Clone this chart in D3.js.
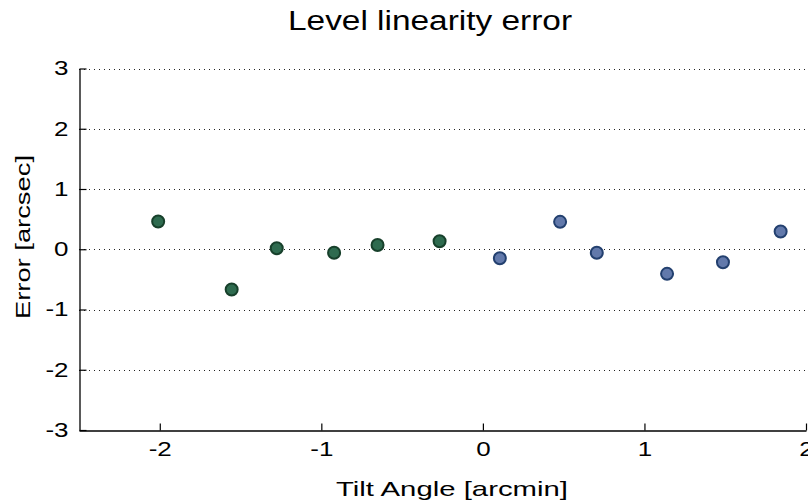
<!DOCTYPE html>
<html><head><meta charset="utf-8">
<script src="https://cdn.jsdelivr.net/npm/d3@7"></script>
<style>
html,body{margin:0;padding:0;background:#fff;}
svg{display:block;font-family:"Liberation Sans",Arial,Helvetica,sans-serif;}
</style></head>
<body><svg id="chart" width="808" height="503"></svg>
<script>
const titleText = "Level linearity error";
const xLabelText = "Tilt Angle [arcmin]";
const yLabelText = "Error [arcsec]";
const xTicks = [-2, -1, 0, 1, 2];
const yTicks = [-3, -2, -1, 0, 1, 2, 3];
const greenX = [-2.01, -1.555, -1.276, -0.921, -0.652, -0.268];
const greenY = [0.46, -0.667, 0.017, -0.057, 0.07, 0.133];
const blueX = [0.105, 0.478, 0.705, 1.14, 1.486, 1.843];
const blueY = [-0.15, 0.455, -0.057, -0.408, -0.217, 0.295];

const svg = d3.select("#chart");
const x = d3.scaleLinear().domain([-2.5, 2]).range([79, 806]);
const y = d3.scaleLinear().domain([-3, 3]).range([430, 68.5]);
const sx = 1.3;

// grid
svg.append("g").selectAll("line").data(yTicks.filter(d => d > -3)).join("line")
  .attr("x1", x(-2.5)).attr("x2", 808)
  .attr("y1", d => Math.round(y(d)) + 0.5).attr("y2", d => Math.round(y(d)) + 0.5)
  .attr("stroke", "#222").attr("stroke-width", 1).attr("stroke-dasharray", "1,4");

// axes
const xAxis = svg.append("g").attr("transform", `translate(0,${Math.round(y(-3)) + 0.5})`)
  .call(d3.axisBottom(x).tickValues(xTicks).tickFormat(d3.format("d")).tickSizeInner(-7).tickSizeOuter(0).tickPadding(12));
const yAxis = svg.append("g").attr("transform", `translate(${Math.round(x(-2.5)) + 0.5},0)`)
  .call(d3.axisLeft(y).tickValues(yTicks).tickFormat(d => d3.format("d")(d).replace("−", "-")).tickSizeInner(-7).tickSizeOuter(0).tickPadding(10));

[xAxis, yAxis].forEach(g => {
  g.select(".domain").attr("stroke", "#000").attr("stroke-width", 1.3);
  g.selectAll(".tick line").attr("stroke", "#000").attr("stroke-width", 1.2);
  g.selectAll("text").attr("fill", "#000").attr("font-size", 20)
    .attr("font-family", "'Liberation Sans', Arial, sans-serif");
});
xAxis.selectAll(".tick text").text(d => String(d).replace("−", "-"))
  .attr("dy", "0.71em").attr("y", 11)
  .attr("transform", `scale(${sx},1)`);
yAxis.selectAll(".tick text").text(d => String(d))
  .attr("x", -11 / sx).attr("transform", `scale(${sx},1)`);

// points
const greenPts = greenX.map((v, i) => [v, greenY[i]]);
const bluePts = blueX.map((v, i) => [v, blueY[i]]);
svg.append("g").selectAll("circle").data(greenPts).join("circle")
  .attr("cx", d => x(d[0])).attr("cy", d => y(d[1])).attr("r", 6)
  .attr("fill", "#2e6b4f").attr("stroke", "#17402b").attr("stroke-width", 2);
svg.append("g").selectAll("circle").data(bluePts).join("circle")
  .attr("cx", d => x(d[0])).attr("cy", d => y(d[1])).attr("r", 6)
  .attr("fill", "#6279ab").attr("stroke", "#23406f").attr("stroke-width", 2);

// title and labels
svg.append("text").attr("x", 430).attr("y", 30).attr("text-anchor", "middle")
  .attr("font-size", 27).attr("textLength", 284).attr("lengthAdjust", "spacingAndGlyphs")
  .attr("fill", "#000").text(titleText);
svg.append("text").attr("x", 452).attr("y", 496).attr("text-anchor", "middle")
  .attr("font-size", 21).attr("textLength", 232).attr("lengthAdjust", "spacingAndGlyphs")
  .attr("fill", "#000").text(xLabelText);
svg.append("text").attr("transform", "translate(30,237) rotate(-90)").attr("text-anchor", "middle")
  .attr("font-size", 21).attr("textLength", 164).attr("lengthAdjust", "spacingAndGlyphs")
  .attr("fill", "#000").text(yLabelText);
</script></body></html>
